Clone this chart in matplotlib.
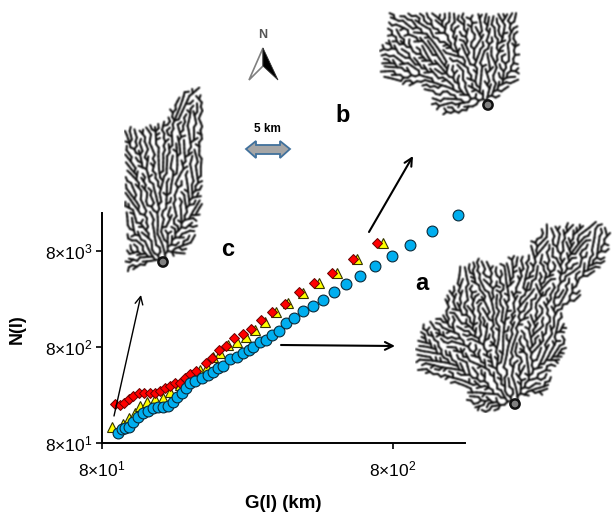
import numpy as np
import matplotlib
matplotlib.use('Agg')
import matplotlib.pyplot as plt
from collections import deque
from matplotlib.collections import LineCollection
from matplotlib.colors import to_rgb
from matplotlib.path import Path
from matplotlib.patches import Polygon, Circle

plt.rcParams['font.family'] = ['Liberation Sans', 'DejaVu Sans']
plt.rcParams['mathtext.fontset'] = 'custom'
plt.rcParams['mathtext.rm'] = 'Liberation Sans'
plt.rcParams['mathtext.bf'] = 'Liberation Sans:bold'
plt.rcParams['mathtext.default'] = 'regular'

# valores
g_a = [90.5, 93.5, 96.0, 99.3, 102.5, 106.6, 110.9, 115.4, 120, 124.9, 129.9, 135.2, 140.7, 145.2, 150.3,
       155.5, 160.5, 167, 176, 185.5, 193, 201, 209, 220, 232, 244, 255, 265, 279, 293, 306, 324, 344, 366,
       393, 425, 460, 502, 553, 614, 692, 792, 917, 1086, 1334]
n_a = [101, 111, 115, 118, 133, 150, 163, 174, 184, 188, 188, 194, 215, 243, 264,
       297, 335, 356, 378, 409, 442, 480, 510, 596, 634, 688, 745, 806, 895, 946, 1062, 1182, 1423, 1592,
       1911, 2153, 2472, 3013, 3625, 4426, 5624, 7047, 9237, 12930, 19100]

g_b = [88.6, 92.3, 95.4, 99, 102.5, 107.2, 111.9, 117, 121.7, 126.6, 131.7, 137, 142.6, 148.3, 154.3, 160.9,
       168, 182, 191, 202, 213, 227, 244, 261, 282, 308, 340, 379, 429, 494, 581, 705]
n_b = [202, 200, 207, 230, 247, 265, 264, 264, 267, 279, 297, 314, 335, 340, 383, 419,
       453, 549, 619, 750, 825, 986, 1092, 1232, 1517, 1838, 2260, 2972, 3689, 4688, 6607, 9760]

g_c = [86.8, 94.7, 99.3, 103.8, 108, 113.9, 121.7, 129.9, 137, 148.3, 164.8, 174, 183, 193, 204, 217, 232,
       250, 268, 291, 317, 349, 391, 446, 513, 603, 738]
n_c = [117, 126, 145, 163, 194, 215, 228, 234, 274, 321, 393, 460, 499, 634, 688, 840, 908,
       1024, 1202, 1468, 1867, 2281, 2944, 3689, 4753, 6607, 9760]

x_ticks = [80, 800]
x_labels = [r'8×10$^{1}$', r'8×10$^{2}$']
y_ticks = [80, 800, 8000]
y_labels = [r'8×10$^{1}$', r'8×10$^{2}$', r'8×10$^{3}$']

# contornos de las cuencas, en pixeles de la imagen
cuenca_a = [(597, 218), (610, 230), (612, 243), (605, 265), (590, 275), (580, 280), (582, 298), (560, 310),
            (567, 327), (567, 348), (552, 373), (553, 383), (543, 395), (520, 397), (515, 407), (480, 413),
            (465, 400), (467, 387), (447, 382), (417, 370), (415, 350), (423, 323), (443, 313), (447, 290),
            (457, 280), (457, 267), (480, 258), (497, 267), (510, 255), (530, 253), (530, 242), (547, 223),
            (573, 223), (590, 227)]
cuenca_b = [(388, 13), (517, 13), (520, 43), (520, 82), (510, 88), (495, 100), (480, 107), (447, 118),
            (430, 107), (430, 95), (420, 87), (403, 85), (378, 75), (383, 60), (378, 47), (387, 37)]
cuenca_c = [(202, 85), (203, 103), (202, 213), (195, 237), (185, 255), (158, 260), (128, 272), (125, 262),
            (128, 243), (125, 203), (125, 123), (138, 127), (168, 120), (170, 105), (187, 90)]
salidas = [(515, 404), (488, 105), (163, 262)]

W, H = 612, 514


def red_drenaje(contorno, salida, paso=4.3):
    # crece ramas desde la salida hasta llenar el contorno, sin azar: la variacion sale de la razon aurea
    contorno = np.array(contorno, dtype=float)
    camino = Path(contorno)
    centro = contorno.mean(axis=0)
    rumbo0 = np.arctan2(*(centro - salida)[::-1])
    nodos = np.zeros((6000, 2))
    nodos[0] = salida
    n = 1
    segs = []
    cola = deque([(0, rumbo0)])
    k = 0
    while cola:
        i, rumbo = cola.popleft()
        for giro in (-1, 1, 0):
            k += 1
            v = (k * 0.6180339887) % 1
            ang = rumbo + giro * (0.55 + 0.6 * v) + (0.2 * v - 0.1)
            nuevo = nodos[i] + paso * np.array([np.cos(ang), np.sin(ang)])
            if not camino.contains_point(nuevo):
                continue
            if np.hypot(*(nodos[:n] - nuevo).T).min() < 0.82 * paso:
                continue
            nodos[n] = nuevo
            segs.append([nodos[i].copy(), nuevo])
            cola.append((n, ang))
            n += 1
    return segs


def difuminar(color):
    # la original esta borrosa: se suaviza el alfa y se deja el color fijo
    rgb = to_rgb(color)

    def filtro(im, dpi):
        alfa = im[:, :, 3]
        k = np.array([0.25, 0.5, 0.25])
        alfa = np.apply_along_axis(lambda v: np.convolve(v, k, mode='same'), 0, alfa)
        alfa = np.apply_along_axis(lambda v: np.convolve(v, k, mode='same'), 1, alfa)
        salida_im = np.empty(im.shape, dtype=im.dtype)
        for c in range(3):
            salida_im[:, :, c] = rgb[c]
        salida_im[:, :, 3] = alfa
        return salida_im, 0, 0
    return filtro


fig = plt.figure(figsize=(W / 100, H / 100), dpi=100)

# capa de fondo con las cuencas
fondo = fig.add_axes([0, 0, 1, 1], zorder=0)
fondo.set_xlim(0, W)
fondo.set_ylim(H, 0)
fondo.axis('off')
for contorno, salida in zip([cuenca_a, cuenca_b, cuenca_c], salidas):
    negras = LineCollection(red_drenaje(contorno, np.array(salida, dtype=float)), colors='#111111',
                            linewidths=1.5, capstyle='round')
    negras.set_agg_filter(difuminar('#111111'))
    fondo.add_collection(negras)

# ejes principales
x0, x1, y_abajo, y_arriba = 102, 465, 443, 213
ax = fig.add_axes([x0 / W, 1 - y_abajo / H, (x1 - x0) / W, (y_abajo - y_arriba) / H], zorder=1)
ax.patch.set_alpha(0)
ax.set_xscale('log')
ax.set_yscale('log')
ax.set_xlim(80, 1414)
ax.set_ylim(80, 19900)

ax.plot(g_c, n_c, ls='none', marker='^', ms=7.2, mfc='#ffff00', mec='#333300', mew=0.8, clip_on=False, zorder=3)
ax.plot(g_b, n_b, ls='none', marker='D', ms=5.5, mfc='#ff0000', mec='#660000', mew=0.7, clip_on=False, zorder=4)
ax.plot(g_a, n_a, ls='none', marker='o', ms=7.8, mfc='#00aeef', mec='#0a2a3a', mew=0.8, clip_on=False, zorder=5)

for lado in ['top', 'right']:
    ax.spines[lado].set_visible(False)
for lado in ['left', 'bottom']:
    ax.spines[lado].set_linewidth(1.4)
ax.set_xticks(x_ticks)
ax.set_xticklabels(x_labels, fontsize=12.5)
ax.set_yticks(y_ticks)
ax.set_yticklabels(y_labels, fontsize=12.5)
ax.tick_params(which='major', length=4, width=1.2, pad=3)
ax.tick_params(axis='x', pad=8)
ax.minorticks_off()

# capa en pixeles para las anotaciones
capa = fig.add_axes([0, 0, 1, 1], zorder=2)
capa.set_xlim(0, W)
capa.set_ylim(H, 0)
capa.axis('off')

for (xs, ys) in salidas:
    capa.add_patch(Circle((xs, ys), 4.6, fc='#808080', ec='#111111', lw=1.8, zorder=6))

for ini, fin, grosor in [((281, 345), (395, 346), 1.5), ((369, 232), (413, 156), 1.5), ((114, 416), (141, 295), 1.0)]:
    capa.annotate('', xy=fin, xytext=ini,
                  arrowprops=dict(arrowstyle='->', color='black', lw=grosor, mutation_scale=14,
                                  shrinkA=0, shrinkB=0))

capa.text(422, 284, 'a', fontsize=17, fontweight='bold', ha='center', va='center')
capa.text(343, 115, 'b', fontsize=17, fontweight='bold', ha='center', va='center')
capa.text(228, 249, 'c', fontsize=17, fontweight='bold', ha='center', va='center')
capa.text(17, 329, 'N(l)', fontsize=13, fontweight='bold', rotation=90, ha='center', va='center')
capa.text(283, 504, 'G(l) (km)', fontsize=13.5, fontweight='bold', ha='center', va='center')
capa.text(267, 129, '5 km', fontsize=8.5, fontweight='bold', ha='center', va='center')
capa.text(263, 35, 'N', fontsize=9, fontweight='bold', color='#555555', ha='center', va='center')

# flecha del norte
capa.add_patch(Polygon([(263, 48), (249, 80), (263, 66)], closed=True, fc='white', ec='#808080', lw=1.2))
capa.add_patch(Polygon([(263, 48), (278, 80), (263, 66)], closed=True, fc='black', ec='#333333', lw=0.6))

# escala
capa.add_patch(Polygon([(246, 149), (256, 141), (256, 145), (280, 145), (280, 141), (290, 149),
                        (280, 158), (280, 154), (256, 154), (256, 158)],
                       closed=True, fc='#a6a6a6', ec='#41719c', lw=1.3))

fig.savefig('out.png', dpi=100)
